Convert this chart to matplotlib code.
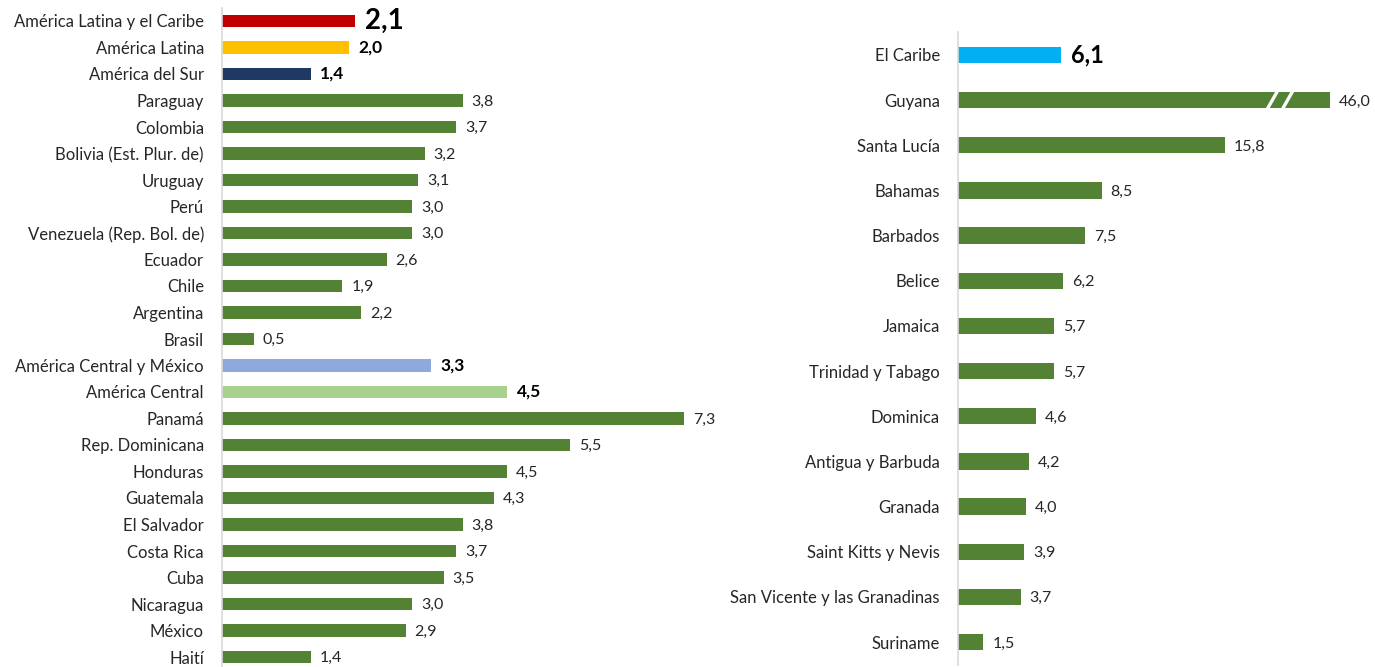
import matplotlib
matplotlib.use('Agg')
import matplotlib.pyplot as plt

plt.rcParams['font.family'] = ['Lato', 'DejaVu Sans']

# Panel izquierdo: América Latina
izq_paises = ['América Latina y el Caribe', 'América Latina', 'América del Sur',
              'Paraguay', 'Colombia', 'Bolivia (Est. Plur. de)', 'Uruguay', 'Perú',
              'Venezuela (Rep. Bol. de)', 'Ecuador', 'Chile', 'Argentina', 'Brasil',
              'América Central y México', 'América Central', 'Panamá', 'Rep. Dominicana',
              'Honduras', 'Guatemala', 'El Salvador', 'Costa Rica', 'Cuba', 'Nicaragua',
              'México', 'Haití']
izq_valores = [2.1, 2.0, 1.4, 3.8, 3.7, 3.2, 3.1, 3.0, 3.0, 2.6, 1.9, 2.2, 0.5,
               3.3, 4.5, 7.3, 5.5, 4.5, 4.3, 3.8, 3.7, 3.5, 3.0, 2.9, 1.4]

# Panel derecho: El Caribe
der_paises = ['El Caribe', 'Guyana', 'Santa Lucía', 'Bahamas', 'Barbados', 'Belice',
              'Jamaica', 'Trinidad y Tabago', 'Dominica', 'Antigua y Barbuda', 'Granada',
              'Saint Kitts y Nevis', 'San Vicente y las Granadinas', 'Suriname']
der_valores = [6.1, 46.0, 15.8, 8.5, 7.5, 6.2, 5.7, 5.7, 4.6, 4.2, 4.0, 3.9, 3.7, 1.5]

VERDE = '#548235'
izq_colores = {0: '#C00000', 1: '#FFC000', 2: '#1F3864', 13: '#8EA9DB', 14: '#A9D18E'}
der_colores = {0: '#00B0F0'}
# agregados en negrita: indice -> tamaño de fuente
izq_negrita = {0: 20, 1: 12.5, 2: 12.5, 13: 12.5, 14: 12.5}
der_negrita = {0: 17}

CORTE = 22.0  # largo dibujado de la barra cortada (Guyana)

W, H = 1375, 667
fig = plt.figure(figsize=(W / 100, H / 100), dpi=100)


def panel(x0, x1, y_top, y_bot, xmax, nombres, valores, colores, negrita, alto):
    ax = fig.add_axes([x0 / W, (H - y_bot) / H, (x1 - x0) / W, (y_bot - y_top) / H])
    n = len(nombres)
    ys = list(range(n))
    largos = [min(v, CORTE) for v in valores]
    cols = [colores.get(i, VERDE) for i in range(n)]
    ax.barh(ys, largos, height=alto, color=cols)
    for i, (v, l) in enumerate(zip(valores, largos)):
        txt = f'{v:.1f}'.replace('.', ',')
        if i in negrita:
            ax.annotate(txt, (l, i), xytext=(7, 0), textcoords='offset points',
                        va='center', ha='left', fontsize=negrita[i],
                        fontweight='bold', color='black')
        else:
            ax.annotate(txt, (l, i), xytext=(6.5, -1), textcoords='offset points',
                        va='center', ha='left', fontsize=11.5, color='#262626')
        if v > CORTE:
            for dx in (-3.4, -2.5):
                ax.plot([l + dx - 0.35, l + dx + 0.35], [i + alto / 2 + 0.05, i - alto / 2 - 0.05],
                        color='white', lw=2.4, solid_capstyle='butt', zorder=3)
    ax.set_xlim(0, xmax)
    ax.set_ylim(n - 0.5, -0.5)
    ax.set_yticks(ys)
    ax.set_yticklabels(nombres, fontsize=12, color='#262626')
    ax.tick_params(axis='y', length=0, pad=13)
    ax.set_xticks([])
    for s in ['top', 'right', 'bottom']:
        ax.spines[s].set_visible(False)
    ax.spines['left'].set_color('#d9d9d9')
    ax.spines['left'].set_linewidth(1.2)
    ax.patch.set_alpha(0)
    return ax


panel(222, 740, 7.75, 670.25, 518 / 63.3, izq_paises, izq_valores, izq_colores, izq_negrita, 0.46)
panel(958, 1375, 32.4, 664.6, 417 / 16.9, der_paises, der_valores, der_colores, der_negrita, 0.36)

fig.savefig('out.png', dpi=100)
